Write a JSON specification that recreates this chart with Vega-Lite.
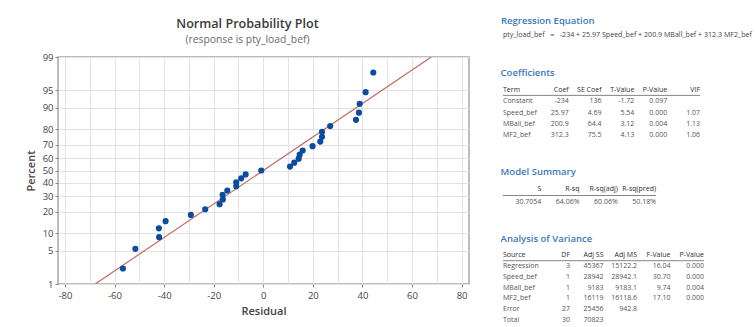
{
  "$schema": "https://vega.github.io/schema/vega-lite/v6.json",
  "background": "white",
  "padding": {"left": 24, "top": 14, "right": 0, "bottom": 0},
  "spacing": 30,
  "config": {
    "font": "Open Sans",
    "view": {"stroke": "#a6a6a6", "strokeWidth": 1.5},
    "text": {"font": "Open Sans"}
  },
  "datasets": {
    "resid": [
      {"residual": -56.6, "percent": 2.23, "score": -2.009},
      {"residual": -51.6, "percent": 5.41, "score": -1.606},
      {"residual": -42.0, "percent": 8.60, "score": -1.366},
      {"residual": -42.1, "percent": 11.78, "score": -1.186},
      {"residual": -39.4, "percent": 14.97, "score": -1.038},
      {"residual": -29.2, "percent": 18.15, "score": -0.910},
      {"residual": -23.4, "percent": 21.34, "score": -0.795},
      {"residual": -17.6, "percent": 24.52, "score": -0.690},
      {"residual": -16.3, "percent": 27.71, "score": -0.592},
      {"residual": -16.4, "percent": 30.89, "score": -0.499},
      {"residual": -14.5, "percent": 34.08, "score": -0.410},
      {"residual": -10.9, "percent": 37.26, "score": -0.325},
      {"residual": -10.9, "percent": 40.45, "score": -0.242},
      {"residual": -8.9, "percent": 43.63, "score": -0.160},
      {"residual": -7.1, "percent": 46.82, "score": -0.080},
      {"residual": -0.8, "percent": 50.00, "score": 0.000},
      {"residual": 10.8, "percent": 53.18, "score": 0.080},
      {"residual": 12.5, "percent": 56.37, "score": 0.160},
      {"residual": 14.3, "percent": 59.55, "score": 0.242},
      {"residual": 14.7, "percent": 62.74, "score": 0.325},
      {"residual": 15.9, "percent": 65.92, "score": 0.410},
      {"residual": 19.9, "percent": 69.11, "score": 0.499},
      {"residual": 23.0, "percent": 72.29, "score": 0.592},
      {"residual": 23.7, "percent": 75.48, "score": 0.690},
      {"residual": 23.7, "percent": 78.66, "score": 0.795},
      {"residual": 27.0, "percent": 81.85, "score": 0.910},
      {"residual": 37.4, "percent": 85.03, "score": 1.038},
      {"residual": 38.6, "percent": 88.22, "score": 1.186},
      {"residual": 38.9, "percent": 91.40, "score": 1.366},
      {"residual": 41.3, "percent": 94.59, "score": 1.606},
      {"residual": 44.4, "percent": 97.77, "score": 2.009}
    ],
    "fit": [
      {"residual": -67.8, "percent": 1, "score": -2.3263},
      {"residual": 67.8, "percent": 99, "score": 2.3263}
    ],
    "plottitle": [
      {"line": "main", "text": "Normal Probability Plot"},
      {"line": "sub", "text": "(response is pty_load_bef)"}
    ],
    "equation": [
      {"line": "heading", "text": "Regression Equation"},
      {"line": "eq", "text": "pty_load_bef\u00a0\u00a0\u00a0=\u00a0\u00a0\u00a0-234 + 25.97 Speed_bef + 200.9 MBall_bef + 312.3 MF2_bef"}
    ],
    "coef": [
      {"row": "hdr", "col": "c0", "text": "Term"},
      {"row": "hdr", "col": "c1", "text": "Coef"},
      {"row": "hdr", "col": "c2", "text": "SE Coef"},
      {"row": "hdr", "col": "c3", "text": "T-Value"},
      {"row": "hdr", "col": "c4", "text": "P-Value"},
      {"row": "hdr", "col": "c5", "text": "VIF"},
      {"row": "Constant", "col": "c0", "text": "Constant"},
      {"row": "Constant", "col": "c1", "text": "-234"},
      {"row": "Constant", "col": "c2", "text": "136"},
      {"row": "Constant", "col": "c3", "text": "-1.72"},
      {"row": "Constant", "col": "c4", "text": "0.097"},
      {"row": "Speed_bef", "col": "c0", "text": "Speed_bef"},
      {"row": "Speed_bef", "col": "c1", "text": "25.97"},
      {"row": "Speed_bef", "col": "c2", "text": "4.69"},
      {"row": "Speed_bef", "col": "c3", "text": "5.54"},
      {"row": "Speed_bef", "col": "c4", "text": "0.000"},
      {"row": "Speed_bef", "col": "c5", "text": "1.07"},
      {"row": "MBall_bef", "col": "c0", "text": "MBall_bef"},
      {"row": "MBall_bef", "col": "c1", "text": "200.9"},
      {"row": "MBall_bef", "col": "c2", "text": "64.4"},
      {"row": "MBall_bef", "col": "c3", "text": "3.12"},
      {"row": "MBall_bef", "col": "c4", "text": "0.004"},
      {"row": "MBall_bef", "col": "c5", "text": "1.13"},
      {"row": "MF2_bef", "col": "c0", "text": "MF2_bef"},
      {"row": "MF2_bef", "col": "c1", "text": "312.3"},
      {"row": "MF2_bef", "col": "c2", "text": "75.5"},
      {"row": "MF2_bef", "col": "c3", "text": "4.13"},
      {"row": "MF2_bef", "col": "c4", "text": "0.000"},
      {"row": "MF2_bef", "col": "c5", "text": "1.06"}
    ],
    "summary": [
      {"row": "hdr", "col": "c0", "text": "S"},
      {"row": "hdr", "col": "c1", "text": "R-sq"},
      {"row": "hdr", "col": "c2", "text": "R-sq(adj)"},
      {"row": "hdr", "col": "c3", "text": "R-sq(pred)"},
      {"row": "val", "col": "c0", "text": "30.7054"},
      {"row": "val", "col": "c1", "text": "64.06%"},
      {"row": "val", "col": "c2", "text": "60.06%"},
      {"row": "val", "col": "c3", "text": "50.18%"}
    ],
    "anova": [
      {"row": "hdr", "col": "c0", "text": "Source"},
      {"row": "hdr", "col": "c1", "text": "DF"},
      {"row": "hdr", "col": "c2", "text": "Adj SS"},
      {"row": "hdr", "col": "c3", "text": "Adj MS"},
      {"row": "hdr", "col": "c4", "text": "F-Value"},
      {"row": "hdr", "col": "c5", "text": "P-Value"},
      {"row": "Regression", "col": "c0", "text": "Regression"},
      {"row": "Regression", "col": "c1", "text": "3"},
      {"row": "Regression", "col": "c2", "text": "45367"},
      {"row": "Regression", "col": "c3", "text": "15122.2"},
      {"row": "Regression", "col": "c4", "text": "16.04"},
      {"row": "Regression", "col": "c5", "text": "0.000"},
      {"row": "Speed_bef", "col": "c0", "text": "\u00a0\u00a0Speed_bef"},
      {"row": "Speed_bef", "col": "c1", "text": "1"},
      {"row": "Speed_bef", "col": "c2", "text": "28942"},
      {"row": "Speed_bef", "col": "c3", "text": "28942.1"},
      {"row": "Speed_bef", "col": "c4", "text": "30.70"},
      {"row": "Speed_bef", "col": "c5", "text": "0.000"},
      {"row": "MBall_bef", "col": "c0", "text": "\u00a0\u00a0MBall_bef"},
      {"row": "MBall_bef", "col": "c1", "text": "1"},
      {"row": "MBall_bef", "col": "c2", "text": "9183"},
      {"row": "MBall_bef", "col": "c3", "text": "9183.1"},
      {"row": "MBall_bef", "col": "c4", "text": "9.74"},
      {"row": "MBall_bef", "col": "c5", "text": "0.004"},
      {"row": "MF2_bef", "col": "c0", "text": "\u00a0\u00a0MF2_bef"},
      {"row": "MF2_bef", "col": "c1", "text": "1"},
      {"row": "MF2_bef", "col": "c2", "text": "16119"},
      {"row": "MF2_bef", "col": "c3", "text": "16118.6"},
      {"row": "MF2_bef", "col": "c4", "text": "17.10"},
      {"row": "MF2_bef", "col": "c5", "text": "0.000"},
      {"row": "Error", "col": "c0", "text": "Error"},
      {"row": "Error", "col": "c1", "text": "27"},
      {"row": "Error", "col": "c2", "text": "25456"},
      {"row": "Error", "col": "c3", "text": "942.8"},
      {"row": "Total", "col": "c0", "text": "Total"},
      {"row": "Total", "col": "c1", "text": "30"},
      {"row": "Total", "col": "c2", "text": "70823"}
    ]
  },
  "hconcat": [
    {
      "spacing": 3,
      "vconcat": [
        {
          "width": 411,
          "height": 34,
          "view": {"stroke": null},
          "data": {"name": "plottitle"},
          "layer": [
            {
              "transform": [{"filter": "datum.line === 'main'"}],
              "mark": {"type": "text", "fontSize": 12.6, "fontWeight": 600, "color": "#3a3a3a", "dx": -16, "dy": 1},
              "encoding": {
                "y": {"field": "line", "type": "nominal", "scale": {"type": "band", "domain": ["main", "sub"], "paddingInner": 0, "paddingOuter": 0}, "axis": null},
                "text": {"field": "text"}
              }
            },
            {
              "transform": [{"filter": "datum.line === 'sub'"}],
              "mark": {"type": "text", "fontSize": 10.3, "color": "#6a6a6a", "dx": -16},
              "encoding": {
                "y": {"field": "line", "type": "nominal"},
                "text": {"field": "text"}
              }
            }
          ]
        },
        {
          "width": 411,
          "height": 227,
          "layer": [
            {
              "data": {"name": "fit"},
              "mark": {"type": "line", "color": "#c46a5e", "strokeWidth": 1.2, "clip": true},
              "encoding": {
                "x": {"field": "residual", "type": "quantitative"},
                "y": {"field": "score", "type": "quantitative"}
              }
            },
            {
              "data": {"name": "resid"},
              "mark": {"type": "point", "filled": true, "opacity": 1, "size": 38, "color": "#0b4c9e"},
              "encoding": {
                "x": {
                  "field": "residual",
                  "type": "quantitative",
                  "scale": {"domain": [-82.8, 83], "nice": false, "zero": false},
                  "axis": {
                    "title": "Residual",
                    "values": [-80, -70, -60, -50, -40, -30, -20, -10, 0, 10, 20, 30, 40, 50, 60, 70, 80],
                    "tickCount": 40,
                    "labelExpr": "datum.value % 20 === 0 ? '' + datum.value : ''",
                    "labelOverlap": false,
                    "grid": true,
                    "gridColor": "#e2e2e2",
                    "domain": false,
                    "tickSize": 3,
                    "tickColor": "#888",
                    "tickOpacity": {"condition": {"test": "datum.value % 20 === 0", "value": 1}, "value": 0},
                    "labelFontSize": 9.5,
                    "labelColor": "#444",
                    "labelPadding": 3,
                    "titleFontSize": 11,
                    "titleFontWeight": 600,
                    "titleColor": "#444",
                    "titlePadding": 6
                  }
                },
                "y": {
                  "field": "score",
                  "type": "quantitative",
                  "scale": {"domain": [-2.3263, 2.3263], "nice": false, "zero": false},
                  "axis": {
                    "title": "Percent",
                    "values": [-2.3263, -1.6449, -1.2816, -0.8416, -0.5244, -0.2533, 0, 0.2533, 0.5244, 0.8416, 1.2816, 1.6449, 2.3263],
                    "tickCount": 40,
                    "labelExpr": "format(cumulativeNormal(datum.value) * 100, '.0f')",
                    "labelOverlap": false,
                    "grid": true,
                    "gridColor": "#e2e2e2",
                    "domain": false,
                    "tickSize": 3,
                    "tickColor": "#888",
                    "labelFontSize": 9.5,
                    "labelColor": "#444",
                    "labelPadding": 2,
                    "titleFontSize": 11,
                    "titleFontWeight": 600,
                    "titleColor": "#444",
                    "titlePadding": 6
                  }
                }
              }
            }
          ]
        }
      ]
    },
    {
      "spacing": 25,
      "vconcat": [
        {
          "width": 259,
          "height": 28,
          "view": {"stroke": null},
          "data": {"name": "equation"},
          "layer": [
            {
              "transform": [{"filter": "datum.line === 'heading'"}],
              "mark": {"type": "text", "align": "left", "fontSize": 9.5, "fontWeight": 600, "color": "#3a78bd", "dx": -2},
              "encoding": {
                "x": {"datum": "all", "type": "nominal", "bandPosition": 0, "scale": {"type": "band", "paddingInner": 0, "paddingOuter": 0}, "axis": null},
                "y": {"field": "line", "type": "nominal", "scale": {"type": "band", "domain": ["heading", "eq"], "paddingInner": 0, "paddingOuter": 0}, "axis": null},
                "text": {"field": "text"}
              }
            },
            {
              "transform": [{"filter": "datum.line === 'eq'"}],
              "mark": {"type": "text", "align": "left", "fontSize": 7.1, "color": "#444"},
              "encoding": {
                "x": {"datum": "all", "type": "nominal", "bandPosition": 0},
                "y": {"field": "line", "type": "nominal"},
                "text": {"field": "text"}
              }
            }
          ]
        },
        {
          "title": {"text": "Coefficients", "anchor": "start", "color": "#3a78bd", "fontSize": 9.5, "fontWeight": 600, "offset": 7, "dx": -2},
          "width": 197,
          "height": 57,
          "view": {"stroke": null},
          "data": {"name": "coef"},
          "layer": [
            {
              "transform": [{"filter": "datum.col === 'c0'"}],
              "mark": {"type": "text", "align": "left", "fontSize": 7},
              "encoding": {
                "x": {"field": "col", "type": "nominal", "bandPosition": 0, "scale": {"type": "band", "domain": ["c0", "c1", "c2", "c3", "c4", "c5"], "paddingInner": 0, "paddingOuter": 0}, "axis": null},
                "y": {"field": "row", "type": "nominal", "scale": {"type": "band", "domain": ["hdr", "Constant", "Speed_bef", "MBall_bef", "MF2_bef"], "paddingInner": 0, "paddingOuter": 0}, "axis": null},
                "text": {"field": "text"},
                "color": {"condition": {"test": "datum.row === 'hdr'", "value": "#2e2e2e"}, "value": "#555"}
              }
            },
            {
              "transform": [{"filter": "datum.col !== 'c0'"}],
              "mark": {"type": "text", "align": "right", "fontSize": 7},
              "encoding": {
                "x": {"field": "col", "type": "nominal", "bandPosition": 1},
                "y": {"field": "row", "type": "nominal"},
                "text": {"field": "text"},
                "color": {"condition": {"test": "datum.row === 'hdr'", "value": "#2e2e2e"}, "value": "#555"}
              }
            },
            {
              "transform": [{"filter": "datum.col === 'c0' && datum.row === 'hdr'"}],
              "mark": {"type": "rule", "color": "#666", "strokeWidth": 0.8},
              "encoding": {
                "y": {"field": "row", "type": "nominal", "bandPosition": 1}
              }
            }
          ]
        },
        {
          "title": {"text": "Model Summary", "anchor": "start", "color": "#3a78bd", "fontSize": 9.5, "fontWeight": 600, "offset": 7, "dx": -2},
          "width": 153,
          "height": 25,
          "view": {"stroke": null},
          "data": {"name": "summary"},
          "layer": [
            {
              "mark": {"type": "text", "align": "right", "fontSize": 7},
              "encoding": {
                "x": {"field": "col", "type": "nominal", "bandPosition": 1, "scale": {"type": "band", "domain": ["c0", "c1", "c2", "c3"], "paddingInner": 0, "paddingOuter": 0}, "axis": null},
                "y": {"field": "row", "type": "nominal", "scale": {"type": "band", "domain": ["hdr", "val"], "paddingInner": 0, "paddingOuter": 0}, "axis": null},
                "text": {"field": "text"},
                "color": {"condition": {"test": "datum.row === 'hdr'", "value": "#2e2e2e"}, "value": "#555"}
              }
            },
            {
              "transform": [{"filter": "datum.col === 'c0' && datum.row === 'hdr'"}],
              "mark": {"type": "rule", "color": "#666", "strokeWidth": 0.8},
              "encoding": {
                "y": {"field": "row", "type": "nominal", "bandPosition": 1}
              }
            }
          ]
        },
        {
          "title": {"text": "Analysis of Variance", "anchor": "start", "color": "#3a78bd", "fontSize": 9.5, "fontWeight": 600, "offset": 7, "dx": -2},
          "width": 201,
          "height": 75,
          "view": {"stroke": null},
          "data": {"name": "anova"},
          "layer": [
            {
              "transform": [{"filter": "datum.col === 'c0'"}],
              "mark": {"type": "text", "align": "left", "fontSize": 7},
              "encoding": {
                "x": {"field": "col", "type": "nominal", "bandPosition": 0, "scale": {"type": "band", "domain": ["c0", "c1", "c2", "c3", "c4", "c5"], "paddingInner": 0, "paddingOuter": 0}, "axis": null},
                "y": {"field": "row", "type": "nominal", "scale": {"type": "band", "domain": ["hdr", "Regression", "Speed_bef", "MBall_bef", "MF2_bef", "Error", "Total"], "paddingInner": 0, "paddingOuter": 0}, "axis": null},
                "text": {"field": "text"},
                "color": {"condition": {"test": "datum.row === 'hdr'", "value": "#2e2e2e"}, "value": "#555"}
              }
            },
            {
              "transform": [{"filter": "datum.col !== 'c0'"}],
              "mark": {"type": "text", "align": "right", "fontSize": 7},
              "encoding": {
                "x": {"field": "col", "type": "nominal", "bandPosition": 1},
                "y": {"field": "row", "type": "nominal"},
                "text": {"field": "text"},
                "color": {"condition": {"test": "datum.row === 'hdr'", "value": "#2e2e2e"}, "value": "#555"}
              }
            },
            {
              "transform": [{"filter": "datum.col === 'c0' && datum.row === 'hdr'"}],
              "mark": {"type": "rule", "color": "#666", "strokeWidth": 0.8},
              "encoding": {
                "y": {"field": "row", "type": "nominal", "bandPosition": 1}
              }
            }
          ]
        }
      ]
    }
  ]
}
